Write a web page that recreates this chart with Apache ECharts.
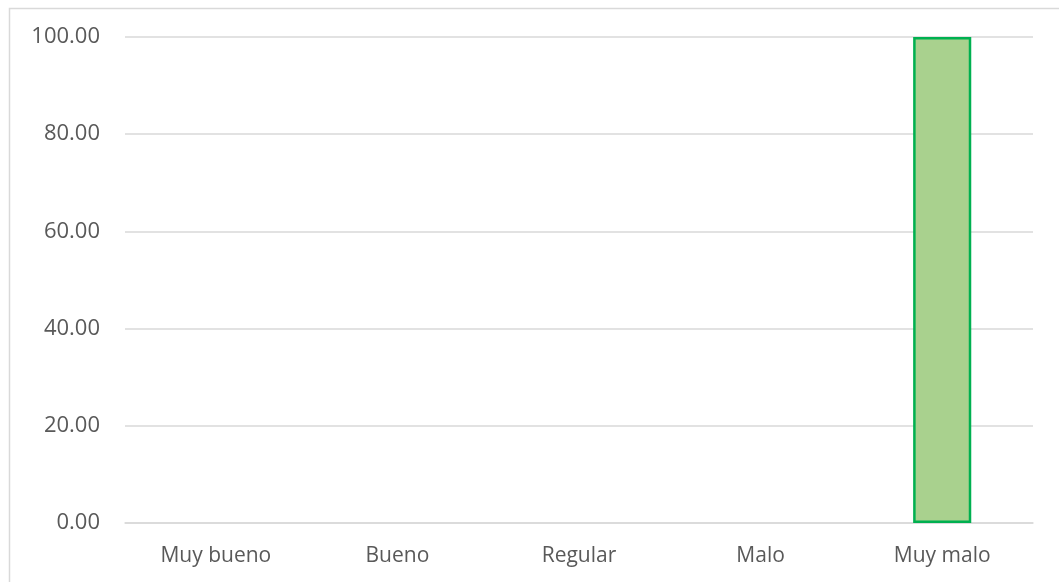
<!DOCTYPE html>
<html>
<head>
<meta charset="utf-8">
<script src="https://cdn.jsdelivr.net/npm/echarts@6/dist/echarts.min.js"></script>
<style>
html,body{margin:0;padding:0;background:#fff;}
#main{width:1059px;height:582px;}
</style>
</head>
<body>
<div id="main"></div>
<script>
const categories = ['Muy bueno', 'Bueno', 'Regular', 'Malo', 'Muy malo'];
const values = [0, 0, 0, 0, 100];
const yTicks = { min: 0, max: 100, interval: 20 };

const chart = echarts.init(document.getElementById('main'));
chart.setOption({
  animation: false,
  backgroundColor: '#ffffff',
  graphic: [{
    type: 'rect',
    shape: { x: 9.5, y: 8.5, width: 1100, height: 700 },
    style: { fill: 'none', stroke: '#d9d9d9', lineWidth: 1.5 },
    silent: true
  }],
  grid: { left: 125, right: 26, top: 37, bottom: 59 },
  xAxis: {
    type: 'category',
    data: categories,
    axisLine: { show: true, lineStyle: { color: '#d9d9d9', width: 1.5 } },
    axisTick: { show: false },
    axisLabel: { color: '#595959', fontFamily: 'Open Sans', fontSize: 21, margin: 23 }
  },
  yAxis: {
    type: 'value',
    min: yTicks.min, max: yTicks.max, interval: yTicks.interval,
    axisLine: { show: false },
    axisTick: { show: false },
    splitLine: { lineStyle: { color: '#d9d9d9', width: 1.5 } },
    axisLabel: {
      color: '#595959', fontFamily: 'Open Sans', fontSize: 22, margin: 25,
      formatter: v => v.toFixed(2)
    }
  },
  series: [{
    type: 'bar',
    data: values.map(v => v === 0 ? { value: v, itemStyle: { borderWidth: 0 } } : v),
    barWidth: '32%',
    itemStyle: { color: '#a9d18e', borderColor: '#00b050', borderWidth: 2.5 }
  }]
});
</script>
</body>
</html>
